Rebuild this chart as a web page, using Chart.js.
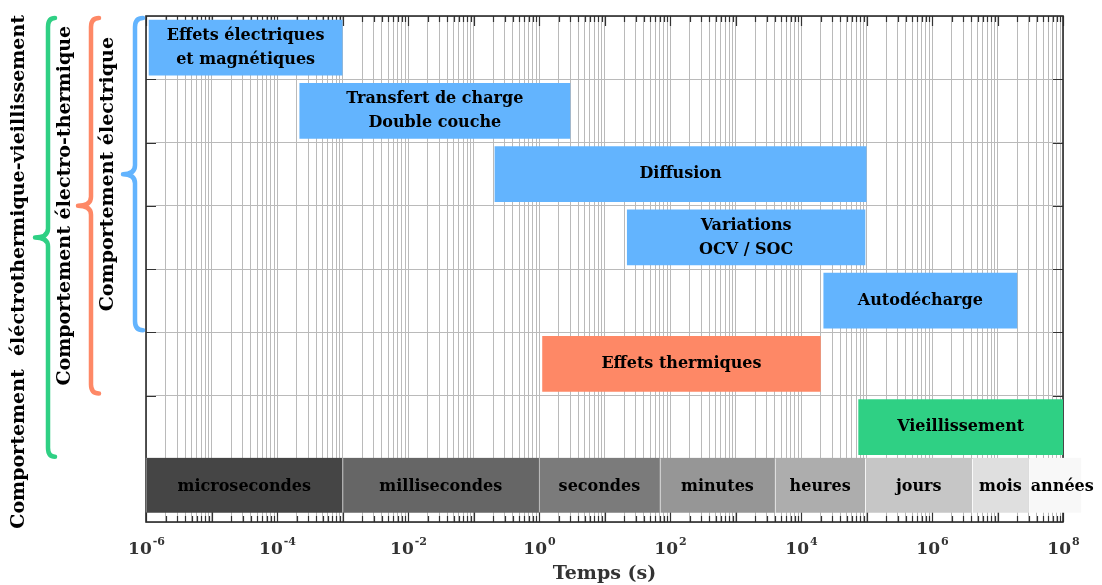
<!DOCTYPE html>
<html>
<head>
<meta charset="utf-8">
<script src="https://cdn.jsdelivr.net/npm/chart.js@4.4.1/dist/chart.umd.min.js"></script>
<style>
html,body{margin:0;padding:0;background:#fff;overflow:hidden}
canvas{display:block}
</style>
</head>
<body>
<canvas id="c" width="1102" height="585"></canvas>
<script>
// ---------------- DATA ----------------
const processes = [
  'Effets électriques\net magnétiques',
  'Transfert de charge\nDouble couche',
  'Diffusion',
  'Variations\nOCV / SOC',
  'Autodécharge',
  'Effets thermiques',
  'Vieillissement'
];
const processStart = [1.1e-6, 2.2e-4, 0.21, 22, 2.2e4, 1.12, 7.5e4];
const processEnd   = [1e-3,   3,      1e5,  9.6e4, 2.0e7, 2.0e4, 1e8];
const processKind  = ['elec','elec','elec','elec','elec','therm','age'];

const timeUnits = ['microsecondes','millisecondes','secondes','minutes','heures','jours','mois','années'];
const timeStart = [1e-6, 1e-3, 1,  70,   4000, 9.6e4, 4.1e6, 3.0e7];
const timeEnd   = [1e-3, 1,    70, 4000, 9.6e4, 4.1e6, 3.0e7, 1.9e8];

const tickExponents = [-6, -4, -2, 0, 2, 4, 6, 8];
const decadeExponents = [-6,-5,-4,-3,-2,-1,0,1,2,3,4,5,6,7];

const groupLabels  = ['Comportement électrique', 'Comportement électro-thermique', 'Comportement  éléctrothermique-vieillissement'];
const groupLastRow = [4, 5, 6];
const groupKind    = ['elec', 'therm', 'age'];

// ---------------- STYLE ----------------
const FONT = "'DejaVu Serif', 'Liberation Serif', serif";
const kindColor = { elec: '#63b4fe', therm: '#fe8866', age: '#2fd084' };
const unitColors = ['#454545','#666666','#7b7b7b','#969696','#adadad','#c6c6c6','#dfdfdf','#f8f8f8'];
const braceLayout = [
  { xr: 143, xl: 135, tip: 123, tx: 108 },
  { xr: 99,  xl: 91,  tip: 78,  tx: 65 },
  { xr: 55,  xl: 48,  tip: 35,  tx: 19 }
];
const bandCenter = 7.42; // position of the time-unit band on the hidden row axis

const rowLabels = processes.concat(['échelle']);

const xTicks = [];
decadeExponents.forEach(e => {
  for (let k = 1; k <= 9; k++) xTicks.push({ value: k * Math.pow(10, e), major: k === 1 });
});
xTicks.push({ value: 1e8, major: true });

// ---------------- PLUGIN ----------------
const decor = {
  id: 'decor',
  beforeDatasetsDraw(chart) {
    const { ctx, chartArea: a, scales: { x, y } } = chart;
    ctx.save();
    ctx.strokeStyle = '#333';
    ctx.lineWidth = 1.2;
    ctx.beginPath();
    x.ticks.forEach(t => {
      const px = Math.round(x.getPixelForValue(t.value)) + 0.5;
      const len = t.major ? 10 : 6;
      ctx.moveTo(px, a.top); ctx.lineTo(px, a.top + len);
      ctx.moveTo(px, a.bottom); ctx.lineTo(px, a.bottom - len);
    });
    for (let i = 1; i < rowLabels.length; i++) {
      const py = Math.round(y.getPixelForValue(i - 0.5)) + 0.5;
      ctx.moveTo(a.left, py); ctx.lineTo(a.left + 10, py);
      ctx.moveTo(a.right, py); ctx.lineTo(a.right - 10, py);
    }
    ctx.stroke();
    ctx.lineWidth = 1.6;
    ctx.strokeStyle = '#2b2b2b';
    ctx.strokeRect(a.left, a.top, a.right - a.left, a.bottom - a.top);
    ctx.restore();
  },
  afterDatasetsDraw(chart) {
    const { ctx } = chart;
    ctx.save();
    ctx.fillStyle = '#000';
    ctx.textAlign = 'center';
    ctx.textBaseline = 'middle';
    ctx.font = "bold 16px " + FONT;
    chart.getDatasetMeta(0).data.forEach((el, i) => {
      const cx = (el.x + el.base) / 2, cy = el.y;
      const lines = processes[i].split('\n');
      const lh = 24;
      lines.forEach((ln, j) => {
        ctx.fillText(ln, cx, cy + (j - (lines.length - 1) / 2) * lh);
      });
    });
    chart.getDatasetMeta(1).data.forEach((el, i) => {
      const x0 = Math.min(el.x, el.base), x1 = Math.max(el.x, el.base);
      const w = ctx.measureText(timeUnits[i]).width;
      if (w > x1 - x0 - 4) {
        ctx.textAlign = 'left';
        ctx.fillText(timeUnits[i], x0 + 2, el.y + 2);
      } else {
        ctx.textAlign = 'center';
        ctx.fillText(timeUnits[i], (x0 + x1) / 2, el.y + 2);
      }
    });
    ctx.restore();
  },
  afterDraw(chart) {
    const { ctx, scales: { x, y } } = chart;
    ctx.save();
    ctx.fillStyle = '#333';
    ctx.textBaseline = 'alphabetic';
    tickExponents.forEach(e => {
      const px = x.getPixelForValue(Math.pow(10, e));
      const base = '10', sup = (e < 0 ? '-' : '') + Math.abs(e);
      ctx.font = "bold 17px " + FONT;
      const wb = ctx.measureText(base).width;
      ctx.font = "bold 11px " + FONT;
      const ws = ctx.measureText(sup).width;
      const start = px - (wb + ws) / 2;
      ctx.textAlign = 'left';
      ctx.font = "bold 17px " + FONT;
      ctx.fillText(base, start, 554);
      ctx.font = "bold 11px " + FONT;
      ctx.fillText(sup, start + wb + 1, 545);
    });
    groupLabels.forEach((lab, gi) => {
      const L = braceLayout[gi];
      const top = y.getPixelForValue(-0.5) + 2;
      const bot = y.getPixelForValue(groupLastRow[gi] + 0.5) - 2;
      const mid = (top + bot) / 2;
      const r = 9;
      ctx.strokeStyle = kindColor[groupKind[gi]];
      ctx.lineWidth = 4.5;
      ctx.lineCap = 'round';
      ctx.lineJoin = 'round';
      ctx.beginPath();
      ctx.moveTo(L.xr, top);
      ctx.quadraticCurveTo(L.xl, top, L.xl, top + r);
      ctx.lineTo(L.xl, mid - r);
      ctx.quadraticCurveTo(L.xl, mid, L.tip, mid);
      ctx.quadraticCurveTo(L.xl, mid, L.xl, mid + r);
      ctx.lineTo(L.xl, bot - r);
      ctx.quadraticCurveTo(L.xl, bot, L.xr, bot);
      ctx.stroke();
      ctx.font = "bold 19px " + FONT;
      const w = ctx.measureText(lab).width;
      const cy = Math.max(mid, 15 + w / 2);
      ctx.save();
      ctx.translate(L.tx, cy);
      ctx.rotate(-Math.PI / 2);
      ctx.fillStyle = '#000';
      ctx.textAlign = 'center';
      ctx.textBaseline = 'middle';
      ctx.fillText(lab, 0, 0);
      ctx.restore();
    });
    ctx.restore();
  }
};

// ---------------- CHART ----------------
new Chart(document.getElementById('c'), {
  type: 'bar',
  data: {
    labels: rowLabels,
    datasets: [
      {
        label: 'Phénomènes',
        data: processes.map((p, i) => ({ y: p, x: [processStart[i], processEnd[i]] })),
        backgroundColor: processKind.map(k => kindColor[k]),
        borderWidth: 0,
        categoryPercentage: 1,
        barPercentage: 0.88,
        grouped: false,
        yAxisID: 'y'
      },
      {
        label: 'Échelle de temps',
        data: timeUnits.map((u, i) => ({ y: bandCenter, x: [timeStart[i], timeEnd[i]] })),
        backgroundColor: unitColors,
        borderColor: 'rgba(255,255,255,0.45)',
        borderWidth: { left: 1, right: 0, top: 0, bottom: 0 },
        borderSkipped: false,
        barThickness: 55,
        grouped: false,
        clip: false,
        yAxisID: 'y2'
      }
    ]
  },
  options: {
    indexAxis: 'y',
    responsive: false,
    devicePixelRatio: 1,
    animation: false,
    layout: { padding: { left: 0, top: 16, right: 39, bottom: 0 } },
    plugins: { legend: { display: false }, tooltip: { enabled: false } },
    scales: {
      x: {
        type: 'logarithmic',
        min: 1e-6,
        max: 1e8,
        afterBuildTicks: s => { s.ticks = xTicks.map(t => ({ value: t.value, major: t.major })); },
        afterFit: s => { s.height = 63; },
        ticks: { display: false },
        grid: { color: '#bababa', lineWidth: 1, drawTicks: false },
        border: { display: false },
        title: {
          display: true,
          text: 'Temps (s)',
          color: '#333',
          font: { family: FONT, size: 19, weight: 'bold' },
          padding: { top: 0, bottom: 0 }
        }
      },
      y: {
        type: 'category',
        offset: true,
        afterFit: s => { s.width = 146; },
        ticks: { display: false },
        grid: { color: '#bababa', lineWidth: 1, drawTicks: false, offset: true },
        border: { display: false }
      },
      y2: {
        type: 'linear',
        position: 'left',
        display: true,
        reverse: true,
        min: 0,
        max: 8,
        offset: false,
        afterFit: s => { s.width = 0; },
        ticks: { display: false },
        grid: { display: false, drawTicks: false },
        border: { display: false }
      }
    }
  },
  plugins: [decor]
});
</script>
</body>
</html>
